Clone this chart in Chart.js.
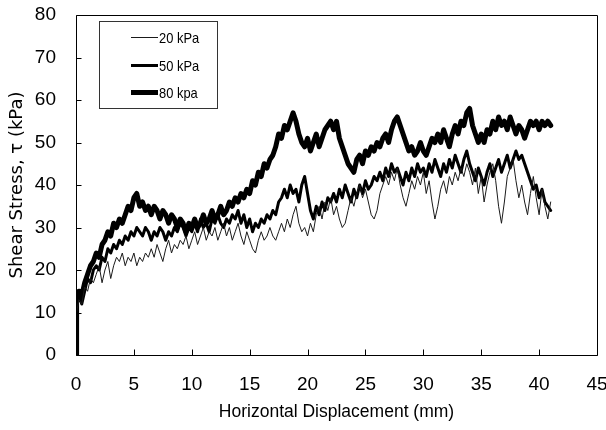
<!DOCTYPE html>
<html><head><meta charset="utf-8">
<script src="https://cdn.jsdelivr.net/npm/chart.js@4.4.1/dist/chart.umd.min.js"></script>
<style>html,body{margin:0;padding:0;background:#fff;}#wrap{width:606px;height:430px;}</style>
</head><body><div id="wrap"><canvas id="c" width="606" height="430"></canvas></div>
<script>
const displacement = [0,0.05,
0.25,0.5,0.75,1, 1.25,1.5,1.75,2, 2.25,2.5,2.75,3, 3.25,3.5,3.75,4, 4.25,4.5,4.75,5,
5.25,5.5,5.75,6, 6.25,6.5,6.75,7, 7.25,7.5,7.75,8, 8.25,8.5,8.75,9, 9.25,9.5,9.75,10,
10.25,10.5,10.75,11, 11.25,11.5,11.75,12, 12.25,12.5,12.75,13, 13.25,13.5,13.75,14, 14.25,14.5,14.75,15,
15.25,15.5,15.75,16, 16.25,16.5,16.75,17, 17.25,17.5,17.75,18, 18.25,18.5,18.75,19, 19.25,19.5,19.75,20,
20.25,20.5,20.75,21, 21.25,21.5,21.75,22, 22.25,22.5,22.75,23, 23.25,23.5,23.75,24, 24.25,24.5,24.75,25,
25.25,25.5,25.75,26, 26.25,26.5,26.75,27, 27.25,27.5,27.75,28, 28.25,28.5,28.75,29, 29.25,29.5,29.75,30,
30.25,30.5,30.75,31, 31.25,31.5,31.75,32, 32.25,32.5,32.75,33, 33.25,33.5,33.75,34, 34.25,34.5,34.75,35,
35.25,35.5,35.75,36, 36.25,36.5,36.75,37, 37.25,37.5,37.75,38, 38.25,38.5,38.75,39, 39.25,39.5,39.75,40,
40.25,40.5,40.75,41];

const stress20 = [0,10,
13,12,16,15, 18,17,19,21, 17,20,22,18, 21,23,22,24, 21,23,22,24,
21,23,22,24, 23,25,23,26, 24,22,25,27, 24,26,25,27, 26,28,25,27,
29,26,28,30, 27,29,28,30, 27,29,31,28, 30,27,29,31, 28,26,29,27,
25,24,27,29, 27,28,30,28, 27,29,31,29, 32,30,33,35, 31,29,30,28,
31,29,33,35, 32,36,34,37, 33,35,32,30, 31,34,37,35, 38,40,37,39,
36,33,32,34, 38,40,42,40, 43,41,44,40, 37,35,38,41, 39,42,40,43,
38,41,36,32, 35,39,41,38, 42,40,43,41, 44,42,45,43, 40,44,38,42,
36,40,43,45, 41,35,31,36, 42,44,46,41, 37,40,36,33, 38,42,37,33,
39,35,32,36];

const stress50 = [0,11,
14,12,15,18, 17,20,21,20, 23,22,25,24, 26,25,27,26, 28,27,29,28,
30,29,28,30, 29,27,29,28, 30,29,27,29, 28,30,29,31, 30,28,30,29,
31,29,32,30, 31,29,32,31, 33,31,30,32, 31,33,32,34, 31,33,30,32,
29,31,30,32, 31,33,32,34, 33,36,37,39, 37,40,38,39, 36,40,42,38,
34,32,35,33, 36,34,37,36, 38,36,39,37, 40,38,36,39, 37,40,38,41,
39,40,42,41, 43,41,44,42, 45,43,44,42, 40,43,41,44, 42,45,43,44,
42,45,43,46, 44,42,45,43, 46,44,47,45, 43,46,48,45, 43,41,44,42,
40,43,45,42, 44,46,43,45, 47,44,46,48, 46,47,45,43, 41,39,40,37,
39,36,35,34];

const stress80 = [0,13,
15,14,17,19, 21,22,24,23, 26,27,29,28, 31,30,32,31, 33,35,34,37,
38,35,36,34, 35,33,35,34, 32,34,33,31, 33,32,30,32, 31,29,31,30,
32,30,31,33, 31,32,34,32, 33,35,33,34, 36,35,37,36, 38,37,39,38,
41,40,43,42, 45,44,46,47, 49,52,51,54, 53,55,57,55, 52,50,49,51,
48,50,52,49, 51,53,54,55, 53,55,51,49, 47,45,44,43, 46,47,45,48,
47,49,48,50, 49,51,52,50, 53,55,56,54, 52,50,48,49, 47,48,50,48,
47,49,51,50, 52,50,53,51, 49,52,54,52, 55,54,57,58, 54,52,50,52,
50,53,52,55, 53,56,54,55, 53,56,54,52, 54,53,51,53, 55,54,55,53,
55,54,55,54];

const seriesLabels = ['20 kPa', '50 kPa', '80 kpa'];
const xTicks = [0,5,10,15,20,25,30,35,40,45];
const yTicks = [0,10,20,30,40,50,60,70,80];

function pts(ys){ return ys.map((v,i)=>({x: displacement[i], y: v})); }

const frame = {
  id: 'frame',
  afterDraw(chart){
    const ctx = chart.ctx, a = chart.chartArea, xs = chart.scales.x, ys = chart.scales.y;
    ctx.save();
    ctx.strokeStyle = '#000'; ctx.lineWidth = 1;
    ctx.beginPath();
    const L = Math.round(a.left)+0.5, R = Math.round(a.right)+0.5, T = Math.round(a.top)+0.5, B = Math.round(a.bottom)+0.5;
    ctx.moveTo(L,T); ctx.lineTo(R,T); ctx.lineTo(R,B); ctx.lineTo(L,B); ctx.closePath();
    yTicks.forEach(v=>{ const p = Math.round(ys.getPixelForValue(v))+0.5; ctx.moveTo(L,p); ctx.lineTo(L+5,p); });
    xTicks.forEach(v=>{ const p = Math.round(xs.getPixelForValue(v))+0.5; ctx.moveTo(p,B); ctx.lineTo(p,B-6); });
    ctx.stroke();
    // legend box
    ctx.fillStyle = '#fff';
    ctx.fillRect(100,22,117,86);
    ctx.strokeStyle = '#333';
    ctx.strokeRect(99.5,21.5,118,87);
    const ly = [37.5, 65.5, 92.5];
    chart.data.datasets.forEach((ds,i)=>{
      ctx.beginPath(); ctx.strokeStyle = ds.borderColor; ctx.lineWidth = ds.borderWidth;
      ctx.moveTo(131, ly[i]); ctx.lineTo(158, ly[i]); ctx.stroke();
      ctx.save();
      ctx.translate(159, ly[i]+1);
      ctx.scale(0.86, 1);
      ctx.fillStyle = '#000';
      ctx.font = '15px "Liberation Sans", sans-serif';
      ctx.textBaseline = 'middle'; ctx.textAlign = 'left';
      ctx.fillText(ds.label, 0, 0);
      ctx.restore();
    });
    ctx.restore();
  }
};

function noPad(s){ s.paddingTop = 0; s.paddingBottom = 0; s.paddingLeft = 0; s.paddingRight = 0; }

new Chart(document.getElementById('c'), {
  type: 'line',
  data: {
    datasets: [
      {label: seriesLabels[0], data: pts(stress20), borderColor: '#1a1a1a', borderWidth: 1},
      {label: seriesLabels[1], data: pts(stress50), borderColor: '#000', borderWidth: 3},
      {label: seriesLabels[2], data: pts(stress80), borderColor: '#000', borderWidth: 5}
    ]
  },
  options: {
    responsive: false, animation: false, devicePixelRatio: 1,
    elements: { point: {radius: 0}, line: {tension: 0, borderJoinStyle: 'round', borderCapStyle: 'round'} },
    layout: { padding: {left: 0, right: 9, top: 15, bottom: 0} },
    plugins: { legend: {display: false}, tooltip: {enabled: false} },
    scales: {
      x: {
        type: 'linear', min: 0, max: 45,
        afterBuildTicks(s){ s.ticks = xTicks.map(v=>({value:v})); },
        ticks: {padding: 18, color: '#000', maxRotation: 0, autoSkip: false, font: {family: 'Liberation Sans', size: 19}},
        grid: {display: false, drawTicks: false}, border: {display: false},
        title: {display: true, text: 'Horizontal Displacement (mm)', color: '#000', font: {family: 'Liberation Sans', size: 17.5}, padding: {top: 0, bottom: 7}},
        afterFit(s){ s.height = 75; noPad(s); }
      },
      y: {
        min: 0, max: 80,
        afterBuildTicks(s){ s.ticks = yTicks.map(v=>({value:v})); },
        ticks: {padding: 20, color: '#000', font: {family: 'Liberation Sans', size: 19}},
        grid: {display: false, drawTicks: false}, border: {display: false},
        title: {display: true, text: 'Shear Stress, τ (kPa)', color: '#000', font: {family: 'DejaVu Sans', size: 18}, padding: {top: 7, bottom: 0}},
        afterFit(s){ s.width = 76; noPad(s); }
      }
    }
  },
  plugins: [frame]
});
</script></body></html>
